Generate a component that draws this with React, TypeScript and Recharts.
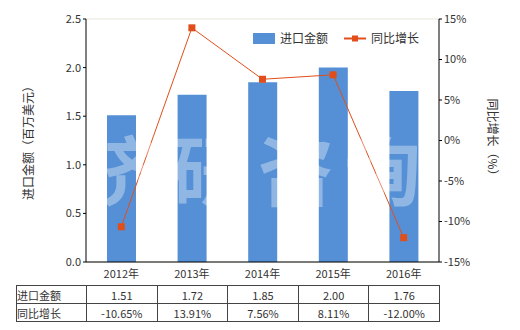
import { ComposedChart, Bar, Line, XAxis, YAxis, CartesianGrid } from 'recharts';

const years = ['2012年', '2013年', '2014年', '2015年', '2016年'];
const importValue = [1.51, 1.72, 1.85, 2.0, 1.76];
const yoyGrowth = [-10.65, 13.91, 7.56, 8.11, -12.0];
const leftTicks = [0, 0.5, 1, 1.5, 2, 2.5];
const rightTicks = [-15, -10, -5, 0, 5, 10, 15];
const watermark = ['济', '研', '咨', '询'];

const data = years.map((year, i) => ({
  year,
  value: importValue[i],
  growth: yoyGrowth[i],
}));

const FONT = '"Noto Sans CJK SC", "DejaVu Sans", sans-serif';
const BAR = '#5590d6';
const LINE = '#e04f1b';
const TEXT = '#333';

const SquareDot = (props: any) => {
  const { cx, cy } = props;
  if (cx == null || cy == null) return null;
  return <rect x={cx - 3.5} y={cy - 3.5} width={7} height={7} fill={LINE} />;
};

const tdStyle: React.CSSProperties = {
  border: '1px solid #444',
  padding: 0,
  height: 17,
  textAlign: 'center',
  fontSize: 11,
  color: TEXT,
};

export default function App() {
  return (
    <div style={{ position: 'fixed', left: 0, top: 0, width: 520, height: 330, background: '#fff', fontFamily: FONT }}>
      <ComposedChart
        width={520}
        height={330}
        data={data}
        margin={{ top: 19, right: 31, left: 36, bottom: 48 }}
      >
        <CartesianGrid vertical={false} stroke="#e9e6dc" />
        <XAxis
          dataKey="year"
          axisLine={{ stroke: '#000' }}
          tickLine={false}
          tick={{ fill: TEXT, fontSize: 11 }}
          height={20}
          interval={0}
        />
        <YAxis
          yAxisId="left"
          width={50}
          domain={[0, 2.5]}
          ticks={leftTicks}
          tickFormatter={(v: number) => v.toFixed(1)}
          axisLine={{ stroke: '#000' }}
          tickLine={{ stroke: '#000' }}
          tickSize={3}
          tick={{ fill: TEXT, fontSize: 11 }}
        />
        <YAxis
          yAxisId="right"
          orientation="right"
          width={50}
          domain={[-15, 15]}
          ticks={rightTicks}
          tickFormatter={(v: number) => `${v}%`}
          axisLine={{ stroke: '#000' }}
          tickLine={{ stroke: '#000' }}
          tickSize={3}
          tick={{ fill: TEXT, fontSize: 11 }}
        />
        <Bar yAxisId="left" dataKey="value" name="进口金额" fill={BAR} barSize={29} isAnimationActive={false} />
        <Line
          yAxisId="right"
          dataKey="growth"
          name="同比增长"
          stroke={LINE}
          strokeWidth={1}
          dot={<SquareDot />}
          activeDot={false}
          isAnimationActive={false}
        />
      </ComposedChart>

      <svg width={520} height={330} style={{ position: 'absolute', left: 0, top: 0, pointerEvents: 'none' }}>
        {watermark.map((ch, i) => (
          <text
            key={ch}
            x={122 + i * 87}
            y={200}
            textAnchor="middle"
            fontSize={76}
            fontWeight="bold"
            fill="#fff"
            fillOpacity={0.35}
            fontFamily={FONT}
          >
            {ch}
          </text>
        ))}
        <text
          transform="translate(30,140) rotate(-90)"
          textAnchor="middle"
          dominantBaseline="middle"
          fontSize={12}
          fill={TEXT}
          fontFamily={FONT}
        >
          进口金额（百万美元）
        </text>
        <text
          transform="translate(491,140) rotate(90)"
          textAnchor="middle"
          dominantBaseline="middle"
          fontSize={12}
          fill={TEXT}
          fontFamily={FONT}
        >
          同比增长（%）
        </text>
      </svg>

      <div
        style={{
          position: 'absolute',
          left: 253,
          top: 31,
          display: 'flex',
          alignItems: 'center',
          fontSize: 12,
          lineHeight: '14px',
          color: TEXT,
        }}
      >
        <span style={{ display: 'inline-block', width: 22, height: 11, background: BAR, marginRight: 5 }} />
        <span style={{ marginRight: 16 }}>进口金额</span>
        <svg width={22} height={11} style={{ marginRight: 5 }}>
          <line x1={0} y1={5.5} x2={22} y2={5.5} stroke={LINE} strokeWidth={2} />
          <rect x={8} y={2.5} width={6} height={6} fill={LINE} />
        </svg>
        <span>同比增长</span>
      </div>

      <table
        style={{
          position: 'absolute',
          left: 16,
          top: 285,
          width: 423,
          borderCollapse: 'collapse',
          tableLayout: 'fixed',
          fontFamily: FONT,
        }}
      >
        <colgroup>
          <col style={{ width: 70 }} />
          {years.map((y) => (
            <col key={y} style={{ width: 70.6 }} />
          ))}
        </colgroup>
        <tbody>
          <tr>
            <td style={{ ...tdStyle, textAlign: 'left' }}>进口金额</td>
            {importValue.map((v, i) => (
              <td key={i} style={tdStyle}>{v.toFixed(2)}</td>
            ))}
          </tr>
          <tr>
            <td style={{ ...tdStyle, textAlign: 'left' }}>同比增长</td>
            {yoyGrowth.map((v, i) => (
              <td key={i} style={tdStyle}>{`${v.toFixed(2)}%`}</td>
            ))}
          </tr>
        </tbody>
      </table>
    </div>
  );
}
